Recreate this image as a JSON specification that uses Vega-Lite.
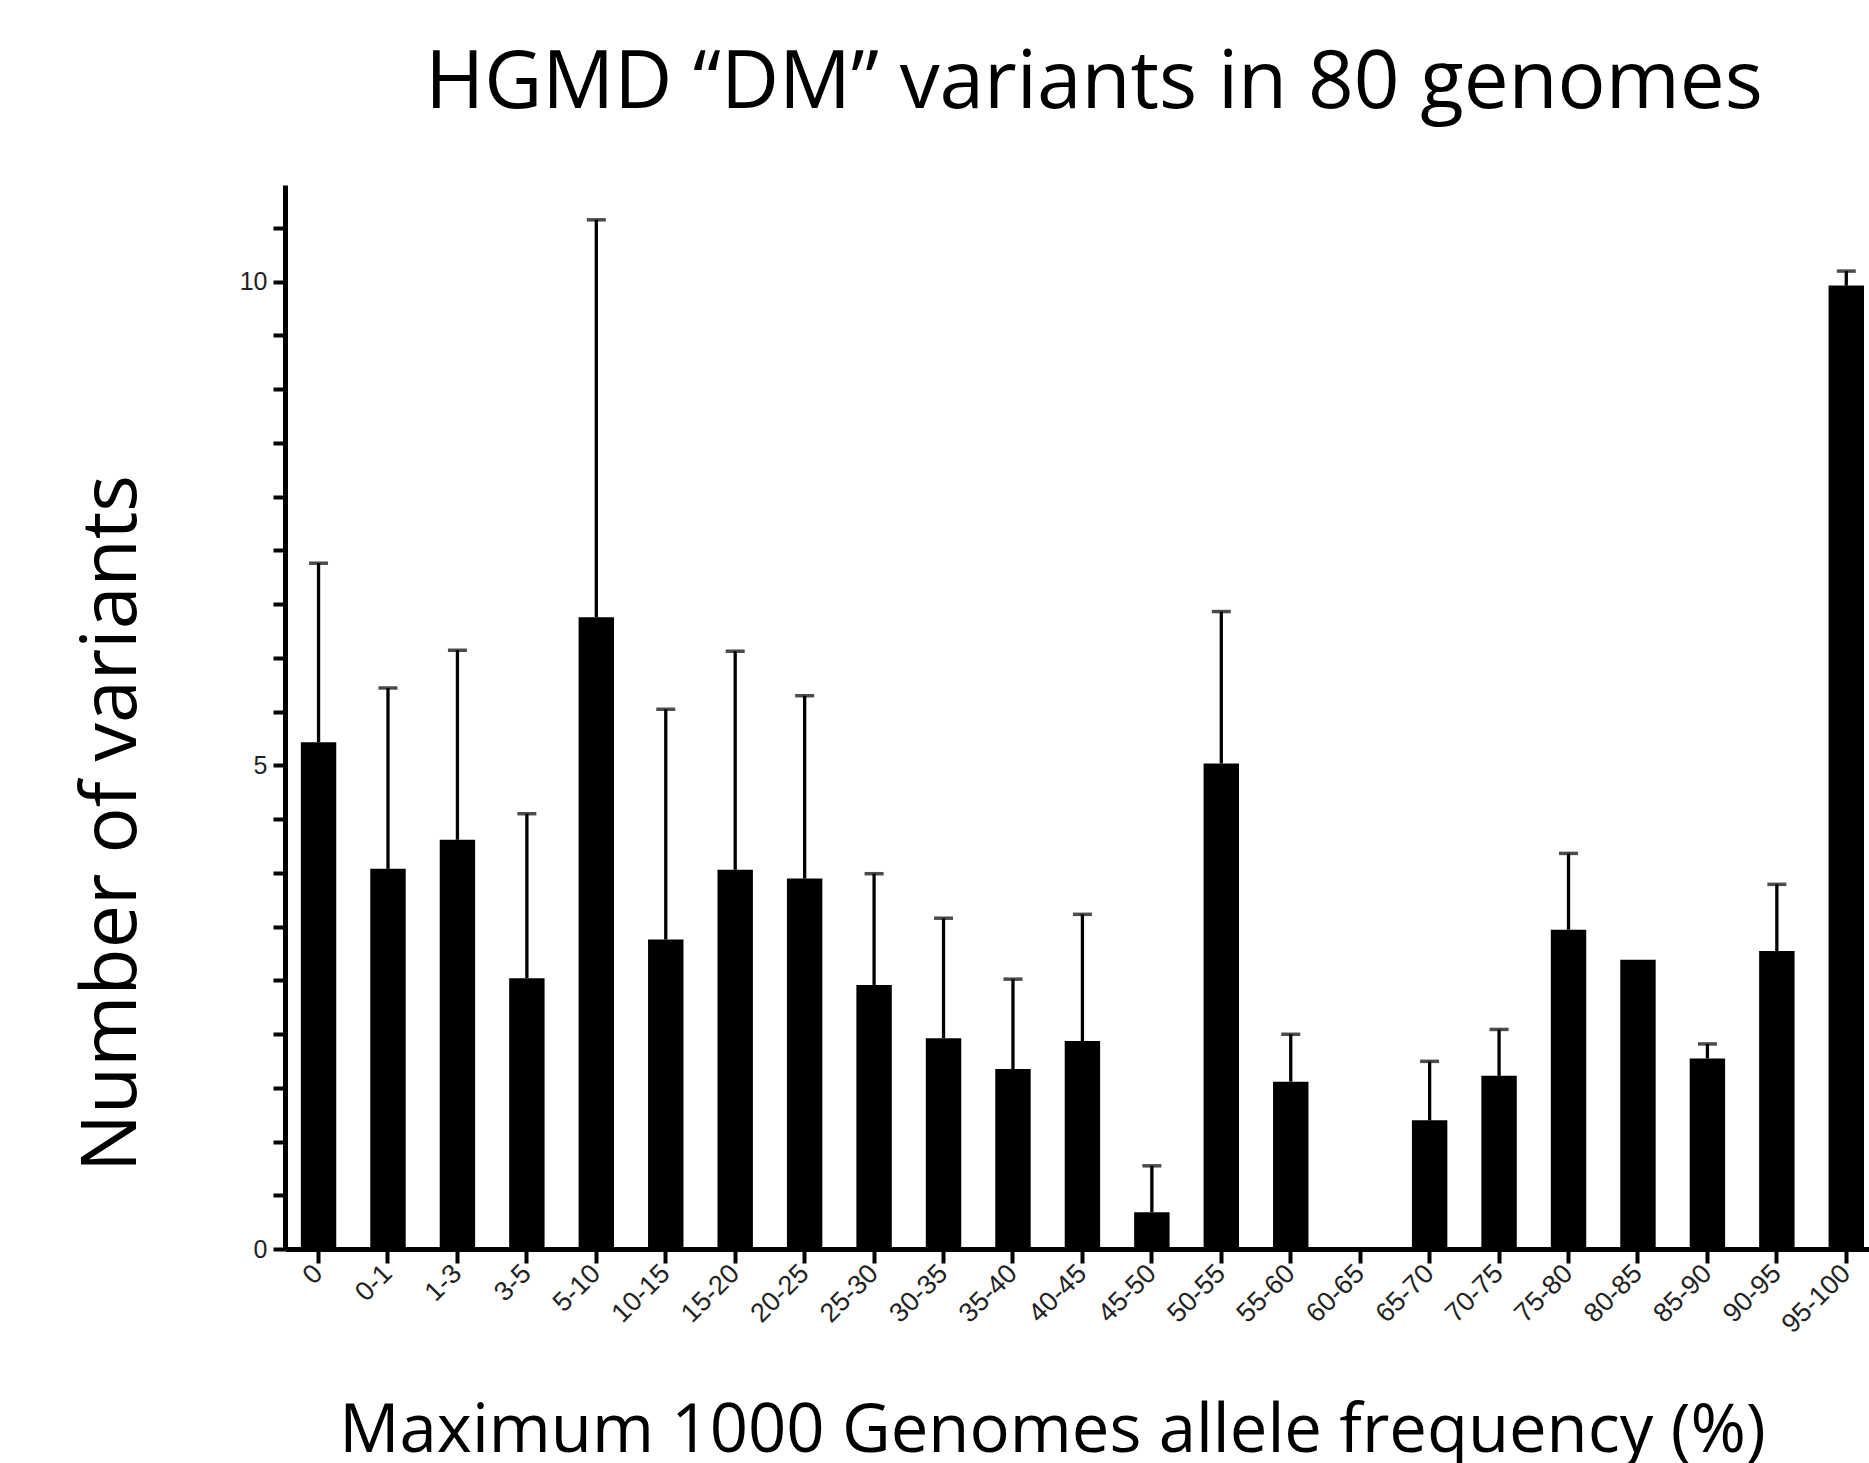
{
  "$schema": "https://vega.github.io/schema/vega-lite/v6.json",
  "width": 1584,
  "height": 1064,
  "autosize": {"type": "none"},
  "padding": {"left": 285, "top": 185, "right": 0, "bottom": 214},
  "background": "white",
  "title": {
    "text": "HGMD “DM” variants in 80 genomes",
    "font": "Open Sans",
    "fontSize": 80,
    "fontWeight": "normal",
    "color": "black",
    "anchor": "middle",
    "dx": 17,
    "offset": -3,
    "baseline": "alphabetic"
  },
  "data": {
    "values": [
      {"bin": "0", "mean": 5.24, "upper": 7.09},
      {"bin": "0-1", "mean": 3.93, "upper": 5.80},
      {"bin": "1-3", "mean": 4.23, "upper": 6.19},
      {"bin": "3-5", "mean": 2.80, "upper": 4.50},
      {"bin": "5-10", "mean": 6.53, "upper": 10.64},
      {"bin": "10-15", "mean": 3.20, "upper": 5.58},
      {"bin": "15-20", "mean": 3.92, "upper": 6.18},
      {"bin": "20-25", "mean": 3.83, "upper": 5.72},
      {"bin": "25-30", "mean": 2.73, "upper": 3.88},
      {"bin": "30-35", "mean": 2.18, "upper": 3.42},
      {"bin": "35-40", "mean": 1.86, "upper": 2.79},
      {"bin": "40-45", "mean": 2.15, "upper": 3.46},
      {"bin": "45-50", "mean": 0.38, "upper": 0.86},
      {"bin": "50-55", "mean": 5.02, "upper": 6.59},
      {"bin": "55-60", "mean": 1.73, "upper": 2.22},
      {"bin": "60-65", "mean": 0, "upper": null},
      {"bin": "65-70", "mean": 1.33, "upper": 1.94},
      {"bin": "70-75", "mean": 1.79, "upper": 2.27},
      {"bin": "75-80", "mean": 3.30, "upper": 4.09},
      {"bin": "80-85", "mean": 2.99, "upper": null},
      {"bin": "85-90", "mean": 1.97, "upper": 2.12},
      {"bin": "90-95", "mean": 3.08, "upper": 3.77},
      {"bin": "95-100", "mean": 9.96, "upper": 10.11}
    ]
  },
  "encoding": {
    "x": {
      "field": "bin",
      "type": "nominal",
      "sort": null,
      "scale": {"paddingInner": 0.49, "paddingOuter": 0.15, "align": 0.76},
      "axis": {
        "title": "Maximum 1000 Genomes allele frequency (%)",
        "titleFont": "Open Sans",
        "titleFontSize": 67,
        "titleFontWeight": "normal",
        "titleColor": "black",
        "titleX": 767,
        "titleY": 202,
        "titleAlign": "center",
        "titleBaseline": "alphabetic",
        "labelAngle": -45,
        "labelAlign": "right",
        "labelBaseline": "middle",
        "labelFont": "Liberation Sans",
        "labelFontSize": 27,
        "labelColor": "#222222",
        "labelPadding": 6,
        "labelOverlap": false,
        "tickSize": 14,
        "tickWidth": 4,
        "tickColor": "black",
        "domainWidth": 5,
        "domainColor": "black",
        "grid": false
      }
    }
  },
  "layer": [
    {
      "mark": {"type": "bar", "color": "black"},
      "encoding": {
        "y": {
          "field": "mean",
          "type": "quantitative",
          "scale": {"domain": [0, 11], "nice": false, "zero": true},
          "axis": {
            "title": "Number of variants",
            "titleFont": "Open Sans",
            "titleFontSize": 77,
            "titleFontWeight": "normal",
            "titleColor": "black",
            "titleX": -150,
            "titleY": 638,
            "titleAlign": "center",
            "titleBaseline": "alphabetic",
            "titleAngle": -90,
            "values": [0, 0.5556, 1.1111, 1.6667, 2.2222, 2.7778, 3.3333, 3.8889, 4.4444, 5, 5.5556, 6.1111, 6.6667, 7.2222, 7.7778, 8.3333, 8.8889, 9.4444, 10, 10.5556],
            "labelExpr": "datum.value === 0 ? '0' : datum.value === 5 ? '5' : datum.value === 10 ? '10' : ''",
            "labelFont": "Liberation Sans",
            "labelFontSize": 25,
            "labelColor": "#222222",
            "labelPadding": 6,
            "tickSize": 12,
            "tickWidth": 4,
            "tickColor": "black",
            "domainWidth": 5,
            "domainColor": "black",
            "grid": false
          }
        }
      }
    },
    {
      "transform": [{"filter": "datum.upper != null"}],
      "mark": {"type": "rule", "color": "black", "strokeWidth": 3.3},
      "encoding": {
        "y": {"field": "mean", "type": "quantitative"},
        "y2": {"field": "upper"}
      }
    },
    {
      "transform": [{"filter": "datum.upper != null"}],
      "mark": {"type": "tick", "color": "black", "thickness": 3.5, "size": 19, "orient": "horizontal"},
      "encoding": {
        "y": {"field": "upper", "type": "quantitative"}
      }
    }
  ],
  "config": {"view": {"stroke": null}}
}
